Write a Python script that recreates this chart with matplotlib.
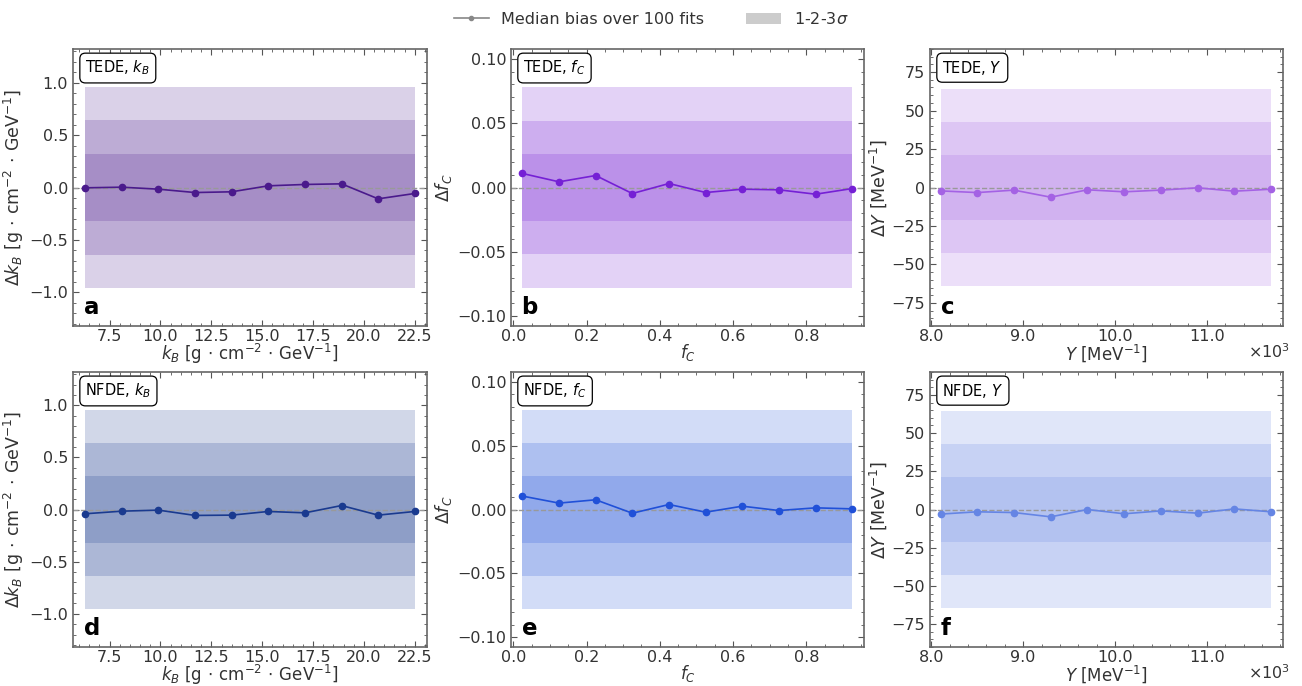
import numpy as np
import matplotlib
matplotlib.use("Agg")
import matplotlib.pyplot as plt
from matplotlib.ticker import AutoMinorLocator, ScalarFormatter, MultipleLocator
from matplotlib.lines import Line2D
from matplotlib.patches import Patch

# ---- data ----
kB_x = [6.3, 8.1, 9.9, 11.7, 13.5, 15.3, 17.1, 18.9, 20.7, 22.5]
fC_x = [0.025, 0.125, 0.225, 0.325, 0.425, 0.525, 0.625, 0.725, 0.825, 0.925]
Y_x = [8100, 8500, 8900, 9300, 9700, 10100, 10500, 10900, 11300, 11700]

tede_kB = [-0.003, 0.003, -0.016, -0.048, -0.041, 0.016, 0.029, 0.035, -0.108, -0.057]
tede_fC = [0.0109, 0.0044, 0.0093, -0.0047, 0.0031, -0.0039, -0.0013, -0.0018, -0.0052, -0.0008]
tede_Y = [-2.2, -3.3, -1.7, -6.3, -1.5, -2.8, -1.7, -0.2, -2.4, -1.1]

nfde_kB = [-0.041, -0.016, -0.006, -0.057, -0.054, -0.019, -0.032, 0.038, -0.054, -0.019]
nfde_fC = [0.0105, 0.0050, 0.0076, -0.0029, 0.0039, -0.0021, 0.0026, -0.0008, 0.0013, 0.0005]
nfde_Y = [-3.0, -1.5, -2.0, -4.8, 0.0, -2.8, -0.9, -2.4, 0.4, -1.5]

sigma_kB = 0.32
sigma_fC = 0.026
sigma_Y = 21.4

models = ["TEDE", "NFDE"]
params = ["$k_B$", "$f_C$", "$Y$"]
letters = ["a", "b", "c", "d", "e", "f"]
colors = [["#4a1a8c", "#7520d5", "#a462e4"],
          ["#1a3a8f", "#2050d8", "#6585e4"]]

xs = [kB_x, fC_x, Y_x]
ys = [[tede_kB, tede_fC, tede_Y], [nfde_kB, nfde_fC, nfde_Y]]
sigmas = [sigma_kB, sigma_fC, sigma_Y]
ylims = [1.32, 0.1075, 90.0]
xlims = [(5.7, 23.1), (-0.006, 0.957), (7985, 11830)]
unit_kB = r"[g$\,\cdot\,$cm$^{-2}\,\cdot\,$GeV$^{-1}$]"
xlabels = [r"$k_B$ " + unit_kB, r"$f_C$", r"$Y$ [MeV$^{-1}$]"]
ylabels = [r"$\Delta k_B$ " + unit_kB, r"$\Delta f_C$", r"$\Delta Y$ [MeV$^{-1}$]"]
ymajor = [0.5, 0.05, 25]
xmajor = [2.5, 0.2, 1000]

plt.rcParams.update({
    "font.family": ["DejaVu Sans"],
    "xtick.direction": "in", "ytick.direction": "in",
    "xtick.top": True, "ytick.right": True,
    "xtick.major.size": 4, "ytick.major.size": 4,
    "xtick.minor.size": 2, "ytick.minor.size": 2,
    "xtick.color": "#555555", "ytick.color": "#555555",
    "xtick.labelcolor": "#333333", "ytick.labelcolor": "#333333",
    "axes.edgecolor": "#666666", "axes.linewidth": 1.2,
    "axes.labelcolor": "#333333",
})


class OneDecFormatter(ScalarFormatter):
    def _set_format(self):
        self.format = "%1.1f"


fig = plt.figure(figsize=(13.02, 6.86), dpi=100)
lefts = [73, 511, 930]
widths = [354, 353, 353]
tops = [49, 372]
heights = [277, 275]
W, H = 1302, 686

for r in range(2):
    for c in range(3):
        ax = fig.add_axes([lefts[c] / W, 1 - (tops[r] + heights[r]) / H, widths[c] / W, heights[r] / H])
        x = xs[c]
        y = ys[r][c]
        col = colors[r][c]
        s = sigmas[c]
        for k in (3, 2, 1):
            ax.fill_between([x[0], x[-1]], -k * s, k * s, color=col, alpha=0.2, lw=0, zorder=1)
        ax.axhline(0, color="#999999", ls="--", lw=1.0, zorder=2)
        ax.plot(x, y, "-o", color=col, lw=1.2, ms=4.5, zorder=3)
        ax.set_xlim(*xlims[c])
        ax.set_ylim(-ylims[c], ylims[c])
        ax.yaxis.set_major_locator(MultipleLocator(ymajor[c]))
        ax.xaxis.set_major_locator(MultipleLocator(xmajor[c]))
        ax.xaxis.set_minor_locator(AutoMinorLocator())
        ax.yaxis.set_minor_locator(AutoMinorLocator())
        ax.tick_params(which="both", labelsize=11.5)
        ax.tick_params(axis="x", pad=2)
        if c == 2:
            fmt = OneDecFormatter(useMathText=True)
            fmt.set_powerlimits((3, 3))
            ax.xaxis.set_major_formatter(fmt)
            ax.xaxis.get_offset_text().set_visible(False)
            ax.text(1.02, -0.06, r"$\times10^{3}$", transform=ax.transAxes,
                    ha="right", va="top", fontsize=11.5, color="#333333")
        ax.set_xlabel(xlabels[c], fontsize=12, labelpad=-1)
        ax.set_ylabel(ylabels[c], fontsize=12.5, labelpad=2)
        ax.text(0.035, 0.965, f"{models[r]}, {params[c]}", transform=ax.transAxes,
                ha="left", va="top", fontsize=10.5, color="black",
                bbox=dict(boxstyle="round,pad=0.38", fc="white", ec="black", lw=0.9), zorder=5)
        ax.text(0.03, 0.025, letters[r * 3 + c], transform=ax.transAxes,
                ha="left", va="bottom", fontsize=16.5, fontweight="bold", color="black", zorder=5)

handles = [Line2D([0], [0], color="#888888", lw=1.2, marker="o", ms=3),
           Patch(facecolor="#cccccc", edgecolor="none")]
fig.legend(handles, ["Median bias over 100 fits", r"1-2-3$\sigma$"], loc="upper center",
           bbox_to_anchor=(0.5, 1.005), ncol=2, frameon=False, fontsize=11.5,
           columnspacing=2.6, handlelength=2.2, labelcolor="#333333")

fig.savefig("out.png", dpi=100)
